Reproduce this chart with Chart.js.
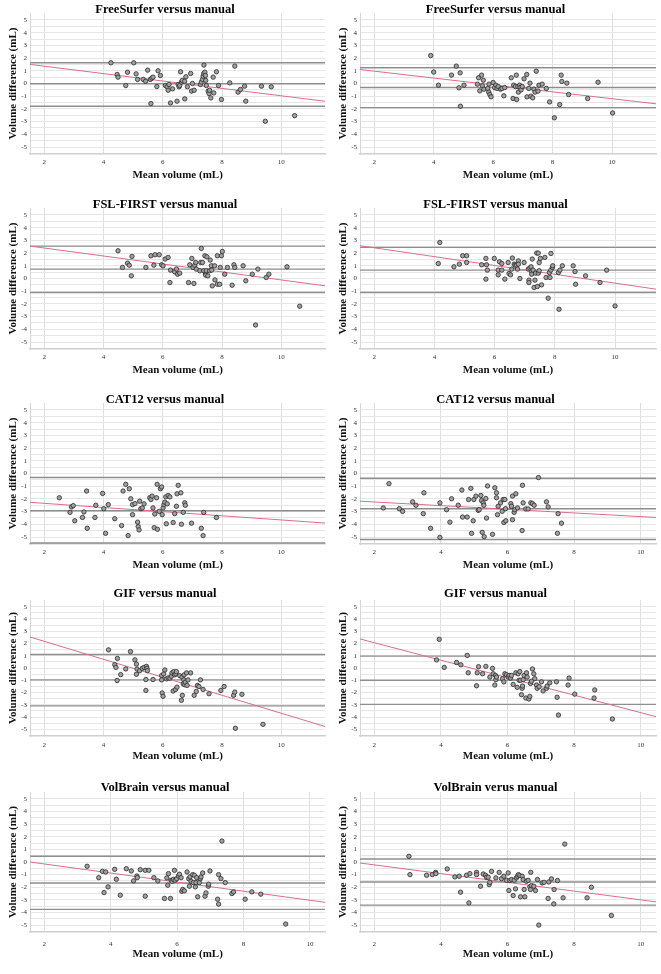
<!DOCTYPE html>
<html>
<head>
<meta charset="utf-8">
<script src="https://cdn.jsdelivr.net/npm/chart.js@4.4.0/dist/chart.umd.min.js"></script>
<style>
  html, body { margin: 0; padding: 0; background: #fff; }
  #figure { position: relative; width: 661px; height: 974px; }
  #figure canvas { position: absolute; }
</style>
</head>
<body>
<div id="figure"></div>
<script>
// Bland-Altman panels: [mean volume, volume difference]
const freeSurferLeft = [
    [4.25, 1.63], [4.46, 0.71], [4.49, 0.50], [4.75, -0.16], [4.81, 0.89], [5.02, 1.63], [5.10, 0.76],
    [5.15, 0.32], [5.34, 0.32], [5.42, 0.18], [5.49, 1.05], [5.58, 0.32], [5.63, 0.42], [5.67, 0.50],
    [5.60, -1.58], [5.80, -0.24], [5.84, 1.00], [5.92, 0.63], [6.09, -0.16], [6.15, -0.26], [6.18, -0.53],
    [6.21, -0.08], [6.26, -1.53], [6.33, -0.42], [6.48, -1.39], [6.52, -0.08], [6.55, -0.26], [6.57, -0.16],
    [6.60, 0.92], [6.63, 0.11], [6.66, 0.24], [6.74, 0.18], [6.74, -1.21], [6.78, 0.53], [6.83, -0.26],
    [6.94, 0.79], [6.97, -0.60], [7.00, 0.00], [7.06, -0.53], [7.27, -0.08], [7.30, 0.11], [7.34, 0.32],
    [7.36, 0.58], [7.38, 0.79], [7.39, 1.45], [7.42, 0.89], [7.44, 0.63], [7.45, 0.24], [7.47, -0.16],
    [7.53, -0.60], [7.56, -0.79], [7.58, -0.53], [7.62, -1.13], [7.70, 0.50], [7.72, -0.74], [7.81, 0.92],
    [7.88, -0.16], [7.98, -1.26], [8.26, 0.05], [8.43, 1.37], [8.54, -0.68], [8.62, -0.47], [8.76, -0.21],
    [8.80, -1.39], [9.33, -0.21], [9.46, -2.97], [9.66, -0.26], [10.45, -2.53]
];
const freeSurferRight = [
    [3.90, 2.20], [4.00, 0.90], [4.16, -0.13], [4.60, 0.66], [4.76, 1.37], [4.85, -0.34], [4.89, 0.84],
    [4.90, -1.79], [5.02, -0.13], [5.47, -0.05], [5.51, 0.45], [5.55, -0.58], [5.61, 0.66], [5.64, -0.18],
    [5.67, 0.26], [5.69, -0.45], [5.82, -0.39], [5.85, -0.68], [5.86, -0.05], [5.89, -0.87], [5.93, -1.05],
    [6.00, 0.08], [6.05, -0.32], [6.09, -0.13], [6.13, -0.39], [6.17, -0.24], [6.25, -0.45], [6.30, -0.39],
    [6.36, -0.97], [6.39, -0.32], [6.61, 0.45], [6.67, -1.18], [6.69, -0.13], [6.75, -0.24], [6.78, 0.66],
    [6.79, -1.26], [6.83, -0.24], [6.85, -0.68], [6.89, -0.13], [6.91, -0.32], [6.94, -0.50], [6.98, -0.24],
    [7.04, 0.37], [7.13, 0.71], [7.14, -1.05], [7.20, -0.39], [7.24, 0.03], [7.27, -1.00], [7.33, -1.13],
    [7.37, -0.45], [7.41, -0.68], [7.45, 0.97], [7.51, -0.60], [7.54, -0.13], [7.65, -0.05], [7.79, -0.39],
    [7.90, -1.45], [8.06, -2.70], [8.24, -1.66], [8.29, 0.66], [8.31, 0.16], [8.48, 0.03], [8.54, -0.87],
    [9.18, -1.18], [9.53, 0.10], [10.02, -2.32]
];
const fslLeft = [
    [4.49, 2.18], [4.64, 0.87], [4.81, 1.21], [4.87, 1.05], [4.96, 1.74], [4.94, 0.21], [5.43, 0.87],
    [5.60, 1.79], [5.70, 1.05], [5.74, 1.87], [5.88, 1.87], [5.96, 1.08], [6.01, 1.00], [6.08, 1.53],
    [6.18, 1.66], [6.24, -0.32], [6.26, 0.66], [6.40, 0.53], [6.46, 0.74], [6.50, 0.34], [6.57, 0.42],
    [6.87, -0.32], [6.91, 1.08], [6.98, 1.58], [7.02, 0.87], [7.05, -0.39], [7.08, 1.05], [7.11, 1.26],
    [7.13, 0.74], [7.25, 0.61], [7.28, 1.26], [7.30, 2.37], [7.34, 1.26], [7.38, 0.61], [7.42, 1.79],
    [7.44, 0.34], [7.45, 0.26], [7.47, 0.61], [7.49, 1.71], [7.52, 0.21], [7.58, 0.61], [7.60, 1.45],
    [7.64, 1.00], [7.65, 0.66], [7.67, -0.58], [7.75, 1.00], [7.76, -0.11], [7.84, 1.79], [7.84, -0.45],
    [7.92, -0.45], [7.94, 0.87], [7.98, 1.79], [8.01, 2.13], [8.09, 0.34], [8.18, 0.87], [8.34, -0.53],
    [8.40, 1.08], [8.43, 0.87], [8.71, 1.00], [8.80, -0.18], [9.02, 0.34], [9.13, -3.66], [9.21, 0.74],
    [9.49, 0.08], [9.58, 0.34], [10.19, 0.92], [10.62, -2.18]
];
const fslRight = [
    [4.13, 1.18], [4.18, 2.84], [4.65, 0.92], [4.83, 1.13], [4.94, 1.79], [5.07, 1.79], [5.07, 1.26],
    [5.57, 1.08], [5.71, 1.58], [5.73, 1.08], [5.76, 0.66], [5.71, -0.05], [5.99, 1.58], [6.12, 0.66],
    [6.12, 0.29], [6.16, 1.32], [6.24, 0.66], [6.24, 1.18], [6.34, -0.05], [6.45, 1.26], [6.48, 0.39],
    [6.53, 0.29], [6.57, 0.74], [6.59, 1.61], [6.65, 1.13], [6.68, 1.05], [6.73, 1.05], [6.76, 0.74],
    [6.79, 1.39], [6.79, 1.13], [6.84, 0.00], [6.98, 1.26], [7.12, 0.74], [7.14, -0.13], [7.14, -0.32],
    [7.17, 0.82], [7.21, 0.92], [7.23, 0.55], [7.23, 0.34], [7.25, 1.53], [7.28, 0.66], [7.31, -0.71],
    [7.34, -0.13], [7.36, 0.42], [7.40, 2.00], [7.42, -0.63], [7.45, 2.00], [7.45, 0.42], [7.48, 1.26],
    [7.48, 0.61], [7.52, 1.58], [7.56, -0.50], [7.67, 1.66], [7.71, 0.08], [7.78, -1.55], [7.82, 0.47],
    [7.84, 0.08], [7.87, 1.97], [7.87, 0.66], [7.92, 0.87], [7.93, 1.00], [8.12, 0.47], [8.14, -2.42],
    [8.17, 0.66], [8.25, 1.00], [8.61, 1.00], [8.67, 0.55], [8.69, -0.45], [9.02, 0.21], [9.50, -0.32],
    [9.72, 0.66], [10.00, -2.16]
];
const cat12Left = [
    [2.51, -1.91], [2.87, -3.06], [2.92, -2.63], [2.98, -2.53], [3.03, -3.72], [3.29, -3.46], [3.34, -3.03],
    [3.43, -1.38], [3.45, -4.31], [3.71, -3.46], [3.74, -2.50], [3.97, -1.57], [4.01, -2.77], [4.07, -4.71],
    [4.16, -2.45], [4.38, -3.56], [4.61, -4.10], [4.66, -1.38], [4.75, -0.85], [4.83, -4.89], [4.87, -1.20],
    [4.92, -1.99], [4.98, -2.45], [4.98, -3.24], [5.06, -2.37], [5.15, -3.83], [5.17, -4.18], [5.20, -4.44],
    [5.22, -2.18], [5.26, -2.77], [5.31, -2.71], [5.37, -2.39], [5.56, -1.91], [5.60, -2.05], [5.64, -1.78],
    [5.67, -2.71], [5.71, -4.26], [5.73, -3.19], [5.79, -1.91], [5.81, -0.85], [5.82, -4.39], [5.88, -2.98],
    [5.92, -1.20], [5.96, -1.06], [5.98, -3.24], [6.01, -2.71], [6.04, -2.45], [6.07, -2.26], [6.10, -1.84],
    [6.12, -3.96], [6.15, -2.39], [6.18, -1.73], [6.24, -1.84], [6.35, -3.86], [6.40, -3.16], [6.46, -2.58],
    [6.48, -1.60], [6.52, -0.93], [6.61, -1.52], [6.63, -3.99], [6.69, -3.06], [6.74, -2.31], [6.76, -2.50],
    [6.97, -3.91], [7.30, -4.31], [7.36, -4.89], [7.38, -3.06], [7.81, -3.46]
];
const cat12Right = [
    [2.27, -2.71], [2.44, -0.80], [2.75, -2.77], [2.85, -2.98], [3.15, -2.23], [3.25, -2.50], [3.47, -3.16],
    [3.49, -1.52], [3.69, -4.31], [3.97, -2.31], [3.97, -5.03], [4.17, -2.85], [4.27, -3.83], [4.32, -1.99],
    [4.52, -2.50], [4.63, -1.30], [4.65, -3.43], [4.79, -3.43], [4.83, -2.05], [4.90, -1.17], [4.92, -4.71],
    [4.97, -3.72], [4.99, -2.05], [5.05, -1.78], [5.12, -2.90], [5.15, -2.85], [5.20, -1.73], [5.22, -2.13],
    [5.24, -4.63], [5.27, -2.31], [5.29, -2.50], [5.30, -4.97], [5.35, -1.97], [5.37, -3.51], [5.40, -0.98],
    [5.55, -4.79], [5.62, -1.12], [5.67, -1.52], [5.67, -1.91], [5.70, -3.24], [5.72, -2.58], [5.79, -2.31],
    [5.84, -2.98], [5.87, -2.05], [5.89, -3.86], [5.92, -2.05], [5.94, -2.77], [5.95, -3.72], [6.10, -2.37],
    [6.12, -2.58], [6.15, -3.64], [6.15, -1.78], [6.20, -3.06], [6.22, -2.85], [6.25, -1.60], [6.30, -2.71],
    [6.45, -0.93], [6.47, -2.31], [6.44, -4.49], [6.55, -2.79], [6.62, -2.79], [6.70, -2.31], [6.93, -0.32],
    [6.75, -2.37], [6.80, -2.50], [7.17, -2.23], [7.22, -2.63], [7.52, -3.16], [7.50, -4.71], [7.62, -3.91]
];
const gifLeft = [
    [4.17, 1.48], [4.38, 0.27], [4.42, 0.05], [4.47, 0.78], [4.46, -1.02], [4.58, -0.54], [4.75, -0.08],
    [4.91, 1.34], [5.06, 0.67], [5.11, 0.32], [5.11, -0.51], [5.13, -0.08], [5.22, -0.22], [5.31, -0.03],
    [5.37, 0.05], [5.43, -0.94], [5.43, -1.83], [5.45, 0.13], [5.47, -0.03], [5.48, -0.22], [5.67, -0.94],
    [5.96, -0.62], [5.96, -0.97], [5.98, -2.04], [6.01, -2.31], [6.03, -0.48], [6.07, -0.16], [6.12, -0.89],
    [6.18, -0.81], [6.24, -0.83], [6.29, -0.67], [6.31, -0.40], [6.35, -1.88], [6.37, -0.30], [6.40, -0.56],
    [6.43, -1.75], [6.44, -0.48], [6.46, -0.30], [6.48, -1.56], [6.57, -0.62], [6.63, -2.63], [6.65, -0.75],
    [6.66, -2.23], [6.69, -1.29], [6.71, -0.97], [6.72, -0.56], [6.74, -1.37], [6.76, -1.16], [6.80, -0.40],
    [6.82, -1.42], [6.85, -0.97], [6.94, -0.40], [7.06, -2.23], [7.13, -1.91], [7.17, -1.42], [7.22, -1.51],
    [7.27, -0.97], [7.36, -1.75], [7.56, -2.10], [7.96, -1.83], [8.07, -1.51], [8.39, -2.23], [8.43, -1.96],
    [8.45, -4.92], [8.67, -2.15], [9.38, -4.60]
];
const gifRight = [
    [3.87, 0.66], [3.95, 2.34], [4.10, 0.05], [4.47, 0.45], [4.60, 0.26], [4.79, 1.03], [4.82, -0.39],
    [5.07, -1.45], [5.09, -0.39], [5.13, 0.11], [5.25, -0.47], [5.35, 0.13], [5.47, -0.74], [5.55, -0.03],
    [5.57, -0.47], [5.62, -1.39], [5.64, -0.61], [5.65, -0.95], [5.67, -0.74], [5.85, -0.87], [5.89, -1.13],
    [5.92, -0.47], [5.97, -0.55], [6.02, -0.74], [6.05, -0.61], [6.09, -0.82], [6.12, -0.61], [6.17, -1.34],
    [6.25, -0.39], [6.29, -1.58], [6.32, -0.47], [6.35, -1.00], [6.37, -0.29], [6.39, -1.00], [6.42, -2.18],
    [6.44, -1.66], [6.45, -1.47], [6.47, -0.95], [6.50, -0.61], [6.55, -2.45], [6.57, -0.39], [6.59, -0.74],
    [6.64, -2.53], [6.67, -2.32], [6.69, -1.26], [6.72, -1.08], [6.75, -0.08], [6.79, -0.47], [6.82, -0.87],
    [6.87, -1.39], [6.89, -1.66], [6.95, -1.53], [7.02, -1.13], [7.07, -1.87], [7.17, -1.66], [7.19, -1.47],
    [7.27, -1.21], [7.47, -1.13], [7.49, -2.39], [7.53, -3.84], [7.82, -1.39], [7.85, -0.82], [8.02, -2.13],
    [8.62, -1.79], [8.60, -2.45], [9.15, -4.16]
];
const volBrainLeft = [
    [3.29, -0.34], [3.64, -1.24], [3.75, -0.74], [3.80, -2.42], [3.85, -0.79], [3.92, -1.97], [4.12, -0.58],
    [4.17, -1.37], [4.29, -2.63], [4.47, -0.53], [4.62, -0.71], [4.69, -1.50], [4.79, -1.11], [4.80, -1.24],
    [4.89, -0.61], [5.04, -2.71], [5.04, -0.66], [5.15, -0.66], [5.30, -1.24], [5.42, -1.50], [5.62, -2.89],
    [5.69, -1.26], [5.72, -1.84], [5.74, -0.92], [5.80, -2.89], [5.82, -1.45], [5.85, -1.53], [5.89, -1.37],
    [5.92, -0.66], [5.94, -1.45], [5.99, -1.32], [6.04, -1.11], [6.07, -0.97], [6.12, -1.24], [6.14, -2.32],
    [6.17, -2.18], [6.22, -2.29], [6.30, -0.79], [6.35, -1.32], [6.37, -1.92], [6.39, -1.18], [6.42, -1.53],
    [6.47, -1.00], [6.49, -1.63], [6.52, -1.05], [6.55, -1.97], [6.57, -1.63], [6.59, -1.24], [6.62, -2.76],
    [6.67, -1.63], [6.70, -1.32], [6.72, -1.18], [6.77, -0.87], [6.84, -2.71], [6.87, -2.45], [6.94, -1.92],
    [6.95, -1.76], [6.99, -0.71], [7.22, -2.95], [7.25, -1.00], [7.25, -3.34], [7.32, -1.32], [7.35, 1.66],
    [7.45, -1.63], [7.65, -2.50], [7.70, -2.37], [8.05, -2.95], [8.25, -2.37], [8.52, -2.55], [9.27, -4.92]
];
const volBrainRight = [
    [3.04, 0.45], [3.07, -1.00], [3.57, -1.05], [3.74, -1.00], [3.84, -0.82], [3.85, -0.92], [4.19, -0.55],
    [4.42, -1.18], [4.55, -1.13], [4.59, -2.39], [4.77, -1.05], [4.84, -3.24], [4.87, -0.92], [5.07, -0.82],
    [5.07, -1.00], [5.19, -1.92], [5.27, -0.95], [5.34, -1.05], [5.37, -1.21], [5.42, -1.21], [5.45, -1.79],
    [5.47, -1.61], [5.52, -0.74], [5.65, -1.26], [5.75, -0.82], [5.82, -1.32], [5.89, -1.13], [5.97, -1.45],
    [6.02, -0.87], [6.04, -2.26], [6.07, -1.47], [6.12, -1.39], [6.17, -2.66], [6.20, -1.45], [6.24, -2.13],
    [6.27, -1.26], [6.30, -1.13], [6.33, -1.00], [6.37, -1.08], [6.39, -2.76], [6.44, -1.13], [6.47, -1.39],
    [6.50, -2.18], [6.52, -2.76], [6.57, -1.53], [6.62, -1.45], [6.67, -1.97], [6.69, -2.18], [6.70, -0.82],
    [6.72, -1.87], [6.79, -1.92], [6.84, -2.26], [6.90, -1.39], [6.94, -5.00], [7.04, -1.66], [7.10, -1.61],
    [7.22, -2.89], [7.24, -1.58], [7.32, -1.34], [7.39, -3.32], [7.40, -2.18], [7.50, -1.47], [7.67, -2.84],
    [7.72, 1.42], [8.39, -2.84], [8.52, -2.00], [9.12, -4.24]
];

// bias line and limits of agreement: [upper, mean, lower]
const freeSurferLeftLines = [1.63, -0.02, -1.79];
const freeSurferRightLines = [1.24, -0.32, -1.90];
const fslLeftLines = [2.55, 0.74, -1.10];
const fslRightLines = [2.45, 0.66, -1.10];
const cat12LeftLines = [-0.32, -2.93, -5.47];
const cat12RightLines = [-0.37, -2.77, -5.19];
const gifLeftLines = [1.10, -0.97, -3.09];
const gifRightLines = [0.97, -1.00, -2.97];
const volBrainLeftLines = [0.45, -1.66, -3.76];
const volBrainRightLines = [0.24, -1.58, -3.42];

// regression line: difference read at the left and right edge of the plot
const freeSurferLeftFit = [1.50, -1.40];
const freeSurferRightFit = [1.10, -1.60];
const fslLeftFit = [2.55, -0.58];
const fslRightFit = [2.58, -0.84];
const cat12LeftFit = [-2.27, -3.90];
const cat12RightFit = [-2.18, -3.46];
const gifLeftFit = [2.53, -4.78];
const gifRightFit = [2.37, -3.97];
const volBrainLeftFit = [0.00, -3.20];
const volBrainRightFit = [-0.08, -3.16];

// axes
const xTickValues = [2, 4, 6, 8, 10];
const yTickLabels = [-5, -4, -3, -2, -1, 0, 1, 2, 3, 4, 5];
const yGridValues = [-5, -4.5, -4, -3.5, -3, -2.5, -2, -1.5, -1, -0.5, 0, 0.5, 1, 1.5, 2, 2.5, 3, 3.5, 4, 4.5, 5];
const xRangeWide = [1.52, 11.48];
const xRangeMid = [1.53, 11.36];
const xRangeNarrow = [1.57, 10.46];
const yRange = [-5.55, 5.55];

const xTitle = 'Mean volume (mL)';
const yTitle = 'Volume difference (mL)';

// row geometry inside each 195px tall cell
const rows = [
    { top: 0, height: 195, plotTop: 13, plotBottom: 154, tickY: 162, xTitleY: 175, headY: 9.5 },
    { top: 195, height: 195, plotTop: 13, plotBottom: 154, tickY: 162, xTitleY: 175, headY: 9.5 },
    { top: 390, height: 195, plotTop: 13, plotBottom: 154, tickY: 162, xTitleY: 175, headY: 9.5 },
    { top: 585, height: 195, plotTop: 15, plotBottom: 151, tickY: 160, xTitleY: 171, headY: 9 },
    { top: 780, height: 194, plotTop: 12, plotBottom: 152, tickY: 164, xTitleY: 174, headY: 7.5 }
];
const cols = [
    { left: 0, width: 330 },
    { left: 330, width: 331 }
];

const panels = [
    { title: 'FreeSurfer versus manual', points: freeSurferLeft, lines: freeSurferLeftLines, fit: freeSurferLeftFit, xr: xRangeWide, row: 0, col: 0 },
    { title: 'FreeSurfer versus manual', points: freeSurferRight, lines: freeSurferRightLines, fit: freeSurferRightFit, xr: xRangeWide, row: 0, col: 1 },
    { title: 'FSL-FIRST versus manual', points: fslLeft, lines: fslLeftLines, fit: fslLeftFit, xr: xRangeWide, row: 1, col: 0 },
    { title: 'FSL-FIRST versus manual', points: fslRight, lines: fslRightLines, fit: fslRightFit, xr: xRangeMid, row: 1, col: 1 },
    { title: 'CAT12 versus manual', points: cat12Left, lines: cat12LeftLines, fit: cat12LeftFit, xr: xRangeWide, row: 2, col: 0 },
    { title: 'CAT12 versus manual', points: cat12Right, lines: cat12RightLines, fit: cat12RightFit, xr: xRangeNarrow, row: 2, col: 1 },
    { title: 'GIF versus manual', points: gifLeft, lines: gifLeftLines, fit: gifLeftFit, xr: xRangeWide, row: 3, col: 0 },
    { title: 'GIF versus manual', points: gifRight, lines: gifRightLines, fit: gifRightFit, xr: xRangeNarrow, row: 3, col: 1 },
    { title: 'VolBrain versus manual', points: volBrainLeft, lines: volBrainLeftLines, fit: volBrainLeftFit, xr: xRangeNarrow, row: 4, col: 0 },
    { title: 'VolBrain verus manual', points: volBrainRight, lines: volBrainRightLines, fit: volBrainRightFit, xr: xRangeNarrow, row: 4, col: 1 }
];

const SERIF = '"Liberation Serif", "Times New Roman", serif';
const PLOT_LEFT = 30;
const PLOT_RIGHT = 326;

// panel heading drawn centred over the whole cell
const headingPlugin = {
    id: 'heading',
    afterDraw(chart, args, opts) {
        const ctx = chart.ctx;
        ctx.save();
        ctx.font = 'bold 12.5px ' + SERIF;
        ctx.fillStyle = '#000';
        ctx.textAlign = 'center';
        ctx.textBaseline = 'middle';
        ctx.fillText(opts.text, chart.width / 2, opts.y);
        ctx.restore();
    }
};

function hLine(xr, y) {
    return [{ x: xr[0], y: y }, { x: xr[1], y: y }];
}

function refLine(data, color, width) {
    return {
        type: 'line',
        data: data,
        borderColor: color,
        borderWidth: width,
        pointRadius: 0,
        fill: false,
        order: 2
    };
}

function createPanel(p) {
    const row = rows[p.row];
    const col = cols[p.col];
    const canvas = document.createElement('canvas');
    canvas.width = col.width;
    canvas.height = row.height;
    canvas.style.left = col.left + 'px';
    canvas.style.top = row.top + 'px';
    document.getElementById('figure').appendChild(canvas);

    const axisTitleLH = 11 * 1.2;
    const tickLH = 7 * 1.2;

    new Chart(canvas, {
        data: {
            datasets: [
                {
                    type: 'scatter',
                    data: p.points.map(pt => ({ x: pt[0], y: pt[1] })),
                    pointRadius: 2.2,
                    pointBackgroundColor: '#a0a0a0',
                    pointBorderColor: '#2b2b2b',
                    pointBorderWidth: 0.8,
                    order: 0
                },
                refLine(hLine(p.xr, p.lines[0]), '#8e8e8e', 1.4),
                refLine(hLine(p.xr, p.lines[1]), '#8e8e8e', 1.4),
                refLine(hLine(p.xr, p.lines[2]), '#8e8e8e', 1.4),
                Object.assign(refLine([{ x: p.xr[0], y: p.fit[0] }, { x: p.xr[1], y: p.fit[1] }], '#d8708a', 1), { order: 1 })
            ]
        },
        options: {
            responsive: false,
            animation: false,
            devicePixelRatio: 1,
            layout: {
                padding: { left: 0, top: row.plotTop, right: col.width - PLOT_RIGHT, bottom: 0 }
            },
            scales: {
                x: {
                    type: 'linear',
                    min: p.xr[0],
                    max: p.xr[1],
                    afterBuildTicks: scale => { scale.ticks = xTickValues.map(v => ({ value: v })); },
                    afterFit: scale => { scale.height = row.height - row.plotBottom; },
                    grid: { color: '#dedede', lineWidth: 1, drawTicks: false },
                    border: { color: '#cfcfcf', width: 1.5 },
                    ticks: {
                        font: { family: SERIF, size: 7 },
                        color: '#333',
                        padding: row.tickY - row.plotBottom - tickLH / 2,
                        maxRotation: 0
                    },
                    title: {
                        display: true,
                        text: xTitle,
                        font: { family: SERIF, size: 11, weight: 'bold' },
                        color: '#111',
                        padding: { top: 0, bottom: row.height - row.xTitleY - axisTitleLH / 2 }
                    }
                },
                y: {
                    type: 'linear',
                    min: yRange[0],
                    max: yRange[1],
                    afterBuildTicks: scale => { scale.ticks = yGridValues.map(v => ({ value: v })); },
                    afterFit: scale => { scale.width = PLOT_LEFT; },
                    grid: { color: '#e6e6e6', lineWidth: 1, drawTicks: false },
                    border: { color: '#d6d6d6', width: 1 },
                    ticks: {
                        font: { family: SERIF, size: 7 },
                        color: '#333',
                        padding: 3,
                        autoSkip: false,
                        callback: v => yTickLabels.includes(v) ? String(v) : ''
                    },
                    title: {
                        display: true,
                        text: yTitle,
                        font: { family: SERIF, size: 11, weight: 'bold' },
                        color: '#111',
                        padding: { top: 13 - axisTitleLH / 2, bottom: 0 }
                    }
                }
            },
            plugins: {
                legend: { display: false },
                tooltip: { enabled: false },
                heading: { text: p.title, y: row.headY }
            }
        },
        plugins: [headingPlugin]
    });
}

panels.forEach(createPanel);
</script>
</body>
</html>
